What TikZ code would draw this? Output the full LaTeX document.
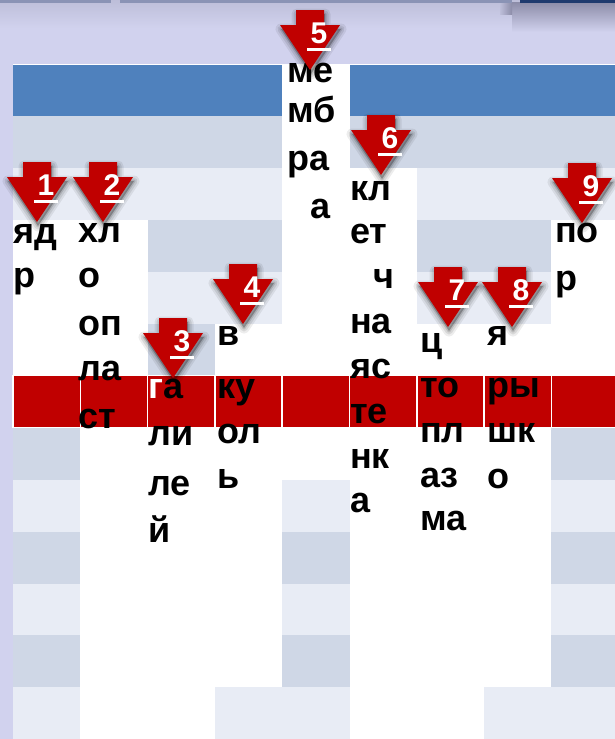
\documentclass[tikz,border=0pt]{standalone}
\usepackage{fontspec}
\setmainfont{Liberation Sans}
\definecolor{lav}{HTML}{D1D2EE}
\definecolor{lavtop}{HTML}{BDBED9}
\definecolor{lavshadow}{HTML}{8C8CA8}
\definecolor{hblue}{HTML}{4F81BD}
\definecolor{rdark}{HTML}{CFD7E6}
\definecolor{rlight}{HTML}{E8ECF5}
\definecolor{cred}{HTML}{C00000}
\definecolor{topgrey}{HTML}{8A93B5}
\definecolor{navy}{HTML}{1F3A6E}
\newcommand\cellbox[3]{\path[fill=#3] ({13+67.3*(#1-1)},{64+51.95*(#2)}) rectangle ++(67.3,51.95);}
\newcommand\redbox[1]{\path[draw=white, line width=1.5pt, fill=cred] ({13+67.3*(#1-1)},{64+51.95*6}) rectangle ++(67.3,51.95);}
\newcommand\arrowshape[2]{(#1-14,#2-60) -- (#1+14,#2-60) -- (#1+14,#2-45) -- (#1+30,#2-45) -- (#1,#2) -- (#1-30,#2-45) -- (#1-14,#2-45) -- cycle}
\newcommand\marker[3]{%
  \begin{scope}[shift={(1,4)}]
    \fill[black, opacity=0.07, draw=black, line width=11pt, line join=round] \arrowshape{#1}{#2};
    \fill[black, opacity=0.09, draw=black, line width=7pt, line join=round] \arrowshape{#1}{#2};
    \fill[black, opacity=0.12, draw=black, line width=3pt, line join=round] \arrowshape{#1}{#2};
  \end{scope}
  \fill[cred] \arrowshape{#1}{#2};
  \node[num] (m#3) at (#1+9,#2-27) {#3};
  \fill[white] (#1-3,#2-22) rectangle (#1+21,#2-19);
}
\tikzset{
  word/.style={font=\fontsize{36}{36}\selectfont\bfseries, inner sep=0pt, anchor=base west, text=black},
  num/.style={font=\fontsize{30}{30}\selectfont\bfseries, inner sep=0pt, anchor=base, text=white}
}
\begin{document}
\begin{tikzpicture}[x=1pt,y=-1pt]
\useasboundingbox (0,0) rectangle (615,739);
\clip (0,0) rectangle (615,739);
% background
\fill[lav] (0,0) rectangle (615,739);
\shade[top color=lavtop, bottom color=lav] (0,0) rectangle (615,28);
\shade[top color=lavshadow, bottom color=lav] (512,2) rectangle (615,32);
\shade[left color=lavtop, right color=lavshadow] (500,2) rectangle (512,14);
\fill[topgrey] (0,0) rectangle (111,2.5);
\fill[topgrey] (120,0) rectangle (512,2.5);
\fill[navy] (520,0) rectangle (615,3);
% table rows
\foreach \r/\col in {0/hblue,1/rdark,2/rlight,3/rdark,4/rlight,5/rdark,7/rdark,8/rlight,9/rdark,10/rlight,11/rdark,12/rlight}{
  \foreach \c in {1,...,9}{\cellbox{\c}{\r}{\col}}
}
\draw[white, line width=1pt] (13,64) -- (640,64);
% white answer cells
\foreach \c/\r in {1/3,1/4,1/5,
  2/3,2/4,2/5,2/7,2/8,2/9,2/10,2/11,2/12,
  3/7,3/8,3/9,3/10,3/11,3/12,
  4/5,4/7,4/8,4/9,4/10,4/11,
  5/0,5/1,5/2,5/3,5/4,5/5,5/7,
  6/2,6/3,6/4,6/5,6/7,6/8,6/9,6/10,6/11,6/12,
  7/5,7/7,7/8,7/9,7/10,7/11,7/12,
  8/5,8/7,8/8,8/9,8/10,8/11,
  9/3,9/4,9/5}{\cellbox{\c}{\r}{white}}
% red key row
\foreach \c in {1,...,9}{\redbox{\c}}
% words
\node[word] (t1a) at (13,243) {яд};
\node[word] (t1b) at (13,287) {р};
\node[word] (t2a) at (78,242) {хл};
\node[word] (t2b) at (78,287) {о};
\node[word] (t2c) at (78,335) {оп};
\node[word] (t2d) at (78,380) {ла};
\node[word] (t2e) at (78,428) {ст};
\node[word] (t3a) at (148,398) {{\color{white}г}а};
\node[word] (t3b) at (148,445) {ли};
\node[word] (t3c) at (148,495) {ле};
\node[word] (t3d) at (148,542) {й};
\node[word] (t4a) at (217,345) {в};
\node[word] (t4b) at (217,398) {ку};
\node[word] (t4c) at (217,443) {ол};
\node[word] (t4d) at (217,488) {ь};
\node[word] (t5a) at (287,82) {ме};
\node[word] (t5b) at (287,122) {мб};
\node[word] (t5c) at (287,170) {ра};
\node[word] (t5d) at (310,218) {а};
\node[word] (t6a) at (350,200) {кл};
\node[word] (t6b) at (350,243) {ет};
\node[word] (t6c) at (373,288) {ч};
\node[word] (t6d) at (350,333) {на};
\node[word] (t6e) at (350,378) {яс};
\node[word] (t6f) at (350,423) {те};
\node[word] (t6g) at (350,468) {нк};
\node[word] (t6h) at (350,512) {а};
\node[word] (t7a) at (420,352) {ц};
\node[word] (t7b) at (420,397) {то};
\node[word] (t7c) at (420,442) {пл};
\node[word] (t7d) at (420,487) {аз};
\node[word] (t7e) at (420,530) {ма};
\node[word] (t8a) at (487,345) {я};
\node[word] (t8b) at (487,397) {ры};
\node[word] (t8c) at (487,442) {шк};
\node[word] (t8d) at (487,488) {о};
\node[word] (t9a) at (555,242) {по};
\node[word] (t9b) at (555,290) {р};
% arrows
\marker{37}{222}{1}
\marker{103}{222}{2}
\marker{173}{378}{3}
\marker{243}{324}{4}
\marker{310}{70}{5}
\marker{381}{175}{6}
\marker{448}{327}{7}
\marker{512}{327}{8}
\marker{582}{223}{9}
\end{tikzpicture}
\end{document}
